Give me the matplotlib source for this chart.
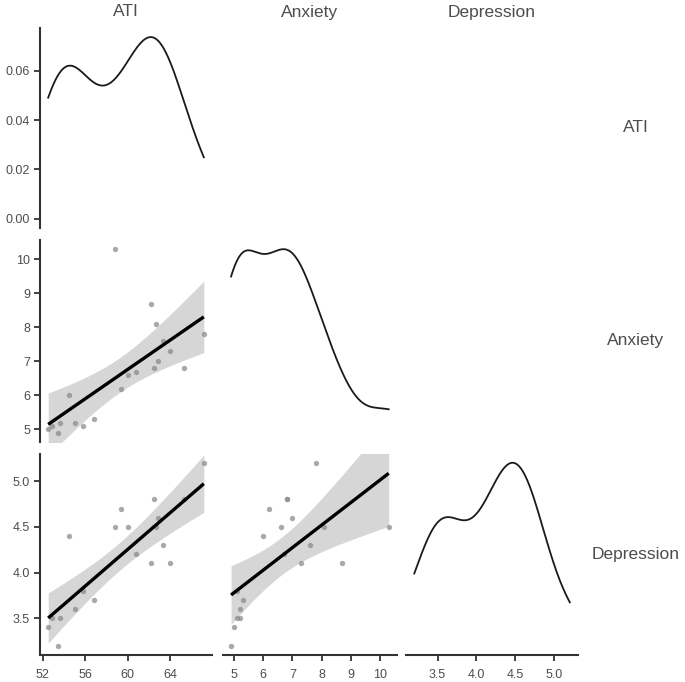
import numpy as np
import matplotlib
matplotlib.use("Agg")
import matplotlib.pyplot as plt

plt.rcParams['font.family'] = ['Liberation Sans', 'DejaVu Sans']

variables = ["ATI", "Anxiety", "Depression"]
ati = [52.5, 52.9, 53.4, 53.6, 54.5, 55.0, 55.8, 56.8, 58.8, 59.4,
       60.0, 60.8, 62.2, 62.5, 62.7, 62.9, 63.3, 64.0, 65.3, 67.2]
anxiety = [5.0, 5.1, 4.9, 5.2, 6.0, 5.2, 5.1, 5.3, 10.3, 6.2,
           6.6, 6.7, 8.7, 6.8, 8.1, 7.0, 7.6, 7.3, 6.8, 7.8]
depression = [3.4, 3.5, 3.2, 3.5, 4.4, 3.6, 3.8, 3.7, 4.5, 4.7,
              4.5, 4.2, 4.1, 4.8, 4.5, 4.6, 4.3, 4.1, 4.8, 5.2]
data = [np.array(ati), np.array(anxiety), np.array(depression)]

xticks = [[52, 56, 60, 64], [5, 6, 7, 8, 9, 10], [3.5, 4.0, 4.5, 5.0]]
xticklabels = [["52", "56", "60", "64"], ["5", "6", "7", "8", "9", "10"],
               ["3.5", "4.0", "4.5", "5.0"]]
yticks_dens = [0.00, 0.02, 0.04, 0.06]
yticks = [None, [5, 6, 7, 8, 9, 10], [3.5, 4.0, 4.5, 5.0]]
yticklabels = [["0.00", "0.02", "0.04", "0.06"], ["5", "6", "7", "8", "9", "10"],
               ["3.5", "4.0", "4.5", "5.0"]]

W, H = 685, 682
fig = plt.figure(figsize=(W / 100, H / 100), dpi=100)

cols = [(40.4, 211.6), (223.2, 396.6), (406.5, 577.6)]
rows = [(28, 228), (240, 442), (453.6, 654.9)]

AXC = '#333333'
TXC = '#4d4d4d'


def kde(v, grid):
    n = len(v)
    sd = np.std(v, ddof=1)
    q75, q25 = np.percentile(v, [75, 25])
    bw = 0.9 * min(sd, (q75 - q25) / 1.34) * n ** (-0.2)
    z = (grid[:, None] - v[None, :]) / bw
    return np.exp(-0.5 * z ** 2).sum(axis=1) / (n * bw * np.sqrt(2 * np.pi))


def lims(v):
    lo, hi = v.min(), v.max()
    r = hi - lo
    return lo - 0.05 * r, hi + 0.05 * r


T975 = 2.1009  # t quantile, df = 18

for i in range(3):
    for j in range(3):
        if j > i:
            continue
        x0, x1 = cols[j]
        y0, y1 = rows[i]
        ax = fig.add_axes([x0 / W, 1 - y1 / H, (x1 - x0) / W, (y1 - y0) / H])
        for s in ax.spines.values():
            s.set_visible(False)
        ax.set_xlim(*lims(data[j]))
        ax.tick_params(colors=AXC, labelcolor=TXC, labelsize=9, length=4, width=1.3)
        ax.tick_params(axis='x', pad=6)
        if i == j:
            v = data[i]
            g = np.linspace(v.min(), v.max(), 512)
            d = kde(v, g)
            ax.plot(g, d, color='#1a1a1a', lw=1.3)
            ax.set_ylim(-0.05 * d.max(), 1.05 * d.max())
        else:
            x = data[j]
            y = data[i]
            ax.set_ylim(*lims(y))
            n = len(x)
            b, a = np.polyfit(x, y, 1)
            g = np.linspace(x.min(), x.max(), 100)
            fit = a + b * g
            res = y - (a + b * x)
            s2 = (res ** 2).sum() / (n - 2)
            se = np.sqrt(s2 * (1 / n + (g - x.mean()) ** 2 / ((x - x.mean()) ** 2).sum()))
            ax.fill_between(g, fit - T975 * se, fit + T975 * se, color='#d6d6d6', lw=0, zorder=1)
            ax.scatter(x, y, s=15, color='#8c8c8c', alpha=0.75, lw=0, zorder=2)
            ax.plot(g, fit, color='black', lw=2.4, zorder=3, solid_capstyle='butt')
        if j == 0:
            ax.spines['left'].set_visible(True)
            ax.spines['left'].set_color(AXC)
            ax.spines['left'].set_linewidth(1.5)
            if i == 0:
                ax.set_yticks(yticks_dens)
                ax.set_yticklabels(yticklabels[0])
            else:
                ax.set_yticks(yticks[i])
                ax.set_yticklabels(yticklabels[i])
        else:
            ax.set_yticks([])
        if i == 2:
            ax.spines['bottom'].set_visible(True)
            ax.spines['bottom'].set_color(AXC)
            ax.spines['bottom'].set_linewidth(1.5)
            ax.set_xticks(xticks[j])
            ax.set_xticklabels(xticklabels[j])
        else:
            ax.set_xticks([])
        ax.patch.set_alpha(0)

for j, name in enumerate(variables):
    cx = (cols[j][0] + cols[j][1]) / 2
    fig.text(cx / W, 1 - 12 / H, name, ha='center', va='center', fontsize=12.5, color=TXC)
for i, name in enumerate(variables):
    cy = (rows[i][0] + rows[i][1]) / 2
    fig.text(636 / W, 1 - cy / H, name, ha='center', va='center', fontsize=12.5, color=TXC)

fig.savefig("out.png", dpi=100)
